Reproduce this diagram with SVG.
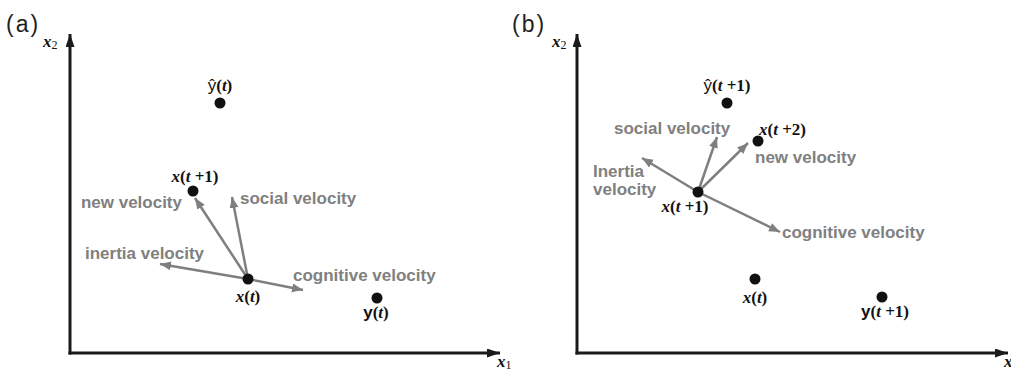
<svg xmlns="http://www.w3.org/2000/svg" width="1011" height="376" viewBox="0 0 1011 376">
<style>
.ax{stroke:#1a1a1a;stroke-width:3;fill:none}
.vec{stroke:#7f7f7f;stroke-width:2.5;fill:none;marker-end:url(#ga)}
.dot{fill:#111}
.lbl{font-family:"Liberation Sans",Arial,sans-serif;font-weight:bold;font-size:17px;fill:#808080}
.m{font-family:"Liberation Serif","Times New Roman",serif;font-weight:bold;font-size:17px;fill:#111}
.axl{font-family:"Liberation Serif","Times New Roman",serif;font-weight:bold;font-size:17px;fill:#111}
.i{font-style:italic}
.s{font-family:"Liberation Sans",Arial,sans-serif}
.pl{font-family:"Liberation Sans",Arial,sans-serif;font-size:23px;letter-spacing:2px;fill:#222}
</style>
<defs>
<marker id="ga" markerUnits="userSpaceOnUse" markerWidth="12" markerHeight="10" refX="11" refY="4.5" orient="auto"><path d="M0,0 L11,4.5 L0,9 Z" fill="#7f7f7f"/></marker>
<marker id="ka" markerUnits="userSpaceOnUse" markerWidth="14" markerHeight="10" refX="13" refY="4.5" orient="auto"><path d="M0,0 L13,4.5 L0,9 Z" fill="#1a1a1a"/></marker>
</defs>
<rect width="1011" height="376" fill="#fff"/>

<g id="panel-a">
<text class="pl" x="6" y="32">(a)</text>
<g id="axes-a">
<line class="ax" x1="70" y1="354.5" x2="70" y2="34" marker-end="url(#ka)"/>
<line class="ax" x1="68.5" y1="353" x2="500" y2="353" marker-end="url(#ka)"/>
<text class="axl" x="43" y="47"><tspan class="i">x</tspan><tspan font-size="12" font-weight="normal" dy="2">2</tspan></text>
<text class="axl" x="497" y="367"><tspan class="i">x</tspan><tspan font-size="12" font-weight="normal" dy="2">1</tspan></text>
</g>
<g id="connectors-a">
<line class="vec" x1="248" y1="279" x2="195" y2="198"/>
<line class="vec" x1="248" y1="279" x2="232" y2="197"/>
<line class="vec" x1="248" y1="279" x2="160" y2="264"/>
<line class="vec" x1="248" y1="279" x2="303" y2="290"/>
</g>
<g id="yhat-a"><circle class="dot" cx="220" cy="103" r="5.5"/><text class="m" x="220" y="91" text-anchor="middle"><tspan class="s" font-weight="normal">ŷ</tspan>(<tspan class="i">t</tspan>)</text></g>
<g id="xt1-a"><circle class="dot" cx="193" cy="191" r="5.5"/><text class="m" x="195" y="182" text-anchor="middle"><tspan class="i">x</tspan>(<tspan class="i">t</tspan> +1)</text></g>
<g id="xt-a"><circle class="dot" cx="248" cy="279" r="5.5"/><text class="m" x="248" y="302" text-anchor="middle"><tspan class="i">x</tspan>(<tspan class="i">t</tspan>)</text></g>
<g id="yt-a"><circle class="dot" cx="377" cy="298" r="5.5"/><text class="m" x="376" y="318" text-anchor="middle"><tspan class="s">y</tspan>(<tspan class="i">t</tspan>)</text></g>
<g id="labels-a">
<text class="lbl" x="182" y="208" text-anchor="end">new velocity</text>
<text class="lbl" x="240" y="204">social velocity</text>
<text class="lbl" x="85" y="259">inertia velocity</text>
<text class="lbl" x="293" y="281">cognitive velocity</text>
</g>
</g>

<g id="panel-b">
<text class="pl" x="512" y="32">(b)</text>
<g id="axes-b">
<line class="ax" x1="577" y1="354.5" x2="577" y2="34" marker-end="url(#ka)"/>
<line class="ax" x1="575.5" y1="353" x2="1008" y2="353" marker-end="url(#ka)"/>
<text class="axl" x="552" y="47"><tspan class="i">x</tspan><tspan font-size="12" font-weight="normal" dy="2">2</tspan></text>
<text class="axl" x="1004" y="367"><tspan class="i">x</tspan></text>
</g>
<g id="connectors-b">
<line class="vec" x1="698" y1="192" x2="717" y2="137"/>
<line class="vec" x1="698" y1="192" x2="748" y2="143"/>
<line class="vec" x1="698" y1="192" x2="642" y2="158"/>
<line class="vec" x1="698" y1="192" x2="780" y2="232"/>
</g>
<g id="yhat-b"><circle class="dot" cx="727" cy="103" r="5.5"/><text class="m" x="727" y="91" text-anchor="middle"><tspan class="s" font-weight="normal">ŷ</tspan>(<tspan class="i">t</tspan> +1)</text></g>
<g id="xt2-b"><circle class="dot" cx="758" cy="141" r="5.5"/><text class="m" x="759" y="135"><tspan class="i">x</tspan>(<tspan class="i">t</tspan> +2)</text></g>
<g id="xt1-b"><circle class="dot" cx="698" cy="192" r="5.5"/><text class="m" x="685" y="212" text-anchor="middle"><tspan class="i">x</tspan>(<tspan class="i">t</tspan> +1)</text></g>
<g id="xt-b"><circle class="dot" cx="755" cy="279" r="5.5"/><text class="m" x="755" y="303" text-anchor="middle"><tspan class="i">x</tspan>(<tspan class="i">t</tspan>)</text></g>
<g id="yt1-b"><circle class="dot" cx="882" cy="297" r="5.5"/><text class="m" x="885" y="317" text-anchor="middle"><tspan class="s">y</tspan>(<tspan class="i">t</tspan> +1)</text></g>
<g id="labels-b">
<text class="lbl" x="614" y="134">social velocity</text>
<text class="lbl" x="755" y="163">new velocity</text>
<text class="lbl" x="593" y="177">Inertia</text>
<text class="lbl" x="593" y="195">velocity</text>
<text class="lbl" x="782" y="238">cognitive velocity</text>
</g>
</g>
</svg>
